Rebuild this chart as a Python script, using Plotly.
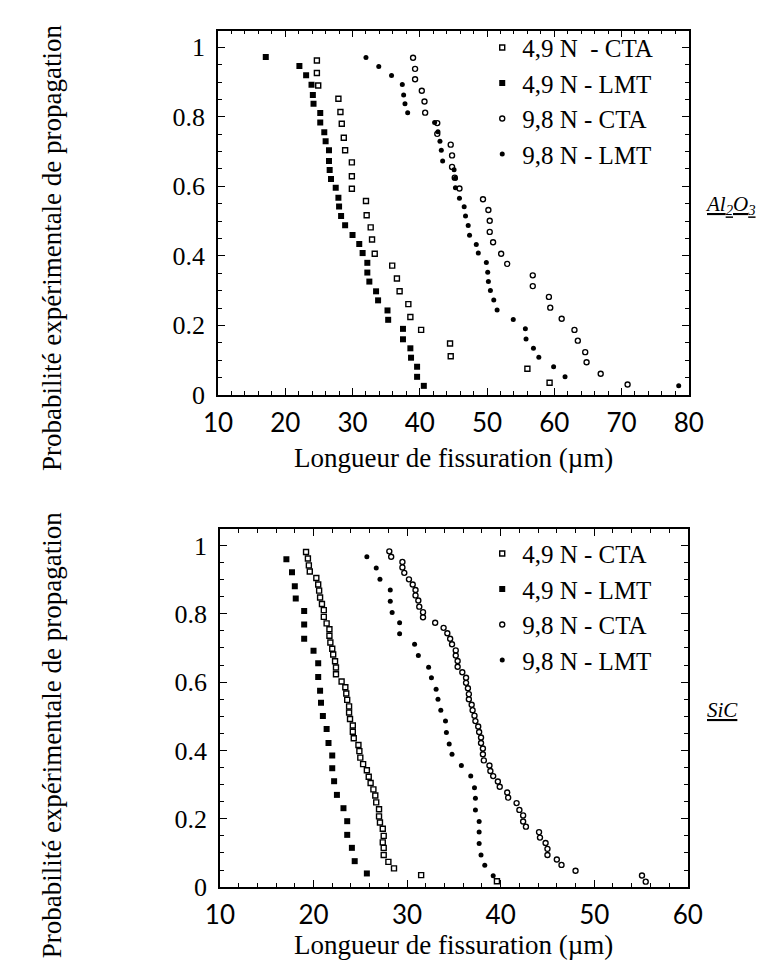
import plotly.graph_objects as go

# ---- Al2O3 panel ----
al_cta49_x = [24.7, 24.7, 24.9, 27.9, 28.2, 28.4, 28.7, 28.9, 29.9, 29.9, 29.9, 32.0, 32.1, 32.7, 32.9, 33.3,
              35.9, 36.6, 37.0, 38.3, 38.6, 40.2, 44.5, 44.6, 56.0, 59.3]
al_cta49_y = [0.962, 0.926, 0.890, 0.852, 0.814, 0.780, 0.740, 0.704, 0.669, 0.629, 0.593, 0.558, 0.517,
              0.482, 0.447, 0.406, 0.372, 0.335, 0.298, 0.261, 0.224, 0.187, 0.148, 0.111, 0.075, 0.035]

al_lmt49_x = [17.1, 22.1, 23.1, 23.9, 24.1, 24.2, 25.2, 25.2, 25.8, 26.0, 26.5, 26.5, 26.6, 26.8, 27.5, 27.9,
              28.0, 28.3, 28.9, 30.0, 31.0, 31.5, 32.2, 32.2, 32.5, 33.5, 33.8, 35.2, 35.3, 37.5, 37.5, 38.6,
              38.7, 39.6, 39.6, 40.6]
al_lmt49_y = [0.972, 0.946, 0.920, 0.892, 0.863, 0.838, 0.811, 0.784, 0.756, 0.730, 0.704, 0.673, 0.647,
              0.621, 0.596, 0.567, 0.542, 0.515, 0.488, 0.460, 0.434, 0.408, 0.380, 0.352, 0.326, 0.298,
              0.272, 0.243, 0.216, 0.190, 0.160, 0.134, 0.107, 0.081, 0.052, 0.026]

al_cta98_x = [39.0, 39.3, 39.3, 40.3, 40.7, 40.8, 42.6, 42.6, 44.6, 44.8, 44.8, 45.2, 45.9, 49.4, 50.2, 50.4,
              50.4, 50.9, 52.1, 53.0, 56.8, 56.8, 59.2, 59.4, 61.1, 63.0, 63.5, 64.6, 64.8, 66.9, 70.9]
al_cta98_y = [0.970, 0.938, 0.908, 0.875, 0.844, 0.812, 0.782, 0.751, 0.720, 0.689, 0.656, 0.625, 0.594,
              0.563, 0.532, 0.501, 0.469, 0.439, 0.406, 0.377, 0.344, 0.313, 0.282, 0.251, 0.219, 0.187,
              0.156, 0.123, 0.094, 0.061, 0.030]

al_lmt98_x = [32.0, 33.9, 35.8, 37.4, 37.6, 37.8, 38.2, 42.2, 42.7, 43.0, 43.2, 43.4, 45.1, 45.3, 45.3, 45.9,
              46.6, 46.8, 47.2, 47.4, 48.4, 48.7, 49.9, 50.1, 50.2, 50.5, 51.0, 51.5, 53.9, 55.7, 55.8, 56.9,
              57.7, 59.9, 61.6, 78.5]
al_lmt98_y = [0.971, 0.945, 0.919, 0.893, 0.863, 0.838, 0.812, 0.784, 0.757, 0.730, 0.704, 0.673, 0.648,
              0.623, 0.596, 0.566, 0.541, 0.515, 0.487, 0.459, 0.433, 0.408, 0.381, 0.353, 0.326, 0.300,
              0.273, 0.244, 0.217, 0.190, 0.161, 0.134, 0.108, 0.081, 0.052, 0.026]

# ---- SiC panel ----
sic_cta49_x = [19.2, 19.4, 19.5, 19.6, 20.3, 20.5, 20.6, 20.7, 20.9, 21.1, 21.1, 21.4, 21.7, 21.7, 21.8, 22.0,
               22.1, 22.3, 22.4, 22.4, 23.0, 23.4, 23.5, 23.6, 23.8, 23.8, 23.9, 24.2, 24.2, 24.3, 24.8, 24.9,
               25.0, 25.3, 25.7, 25.9, 26.1, 26.4, 26.6, 26.7, 27.0, 27.0, 27.1, 27.4, 27.5, 27.4, 27.5, 27.5,
               28.0, 28.6, 31.5, 39.6]
sic_cta49_y = [0.981, 0.962, 0.942, 0.924, 0.905, 0.886, 0.868, 0.848, 0.829, 0.811, 0.791, 0.772, 0.755,
               0.736, 0.716, 0.698, 0.681, 0.661, 0.643, 0.623, 0.602, 0.585, 0.567, 0.548, 0.529, 0.511,
               0.492, 0.473, 0.455, 0.436, 0.416, 0.398, 0.379, 0.360, 0.342, 0.323, 0.305, 0.286, 0.268,
               0.248, 0.228, 0.207, 0.189, 0.171, 0.150, 0.131, 0.115, 0.094, 0.074, 0.055, 0.035, 0.017]

sic_lmt49_x = [17.1, 17.7, 18.0, 18.1, 19.0, 19.0, 19.0, 20.0, 20.5, 20.5, 20.7, 20.8, 21.0, 21.4, 21.6, 22.0,
               22.0, 22.2, 22.5, 23.2, 23.6, 23.6, 24.1, 24.4, 25.7]
sic_lmt49_y = [0.960, 0.922, 0.881, 0.845, 0.808, 0.769, 0.727, 0.692, 0.655, 0.615, 0.575, 0.540, 0.501,
               0.463, 0.422, 0.385, 0.348, 0.310, 0.270, 0.231, 0.193, 0.153, 0.115, 0.076, 0.040]

sic_cta98_x = [28.1, 28.3, 29.5, 29.5, 29.7, 30.2, 30.6, 30.9, 30.9, 31.2, 31.3, 31.7, 31.7, 33.0, 33.9, 34.3,
               34.6, 34.8, 35.2, 35.2, 35.4, 35.4, 35.9, 36.3, 36.3, 36.5, 36.6, 36.6, 36.9, 37.0, 37.2, 37.3,
               37.6, 37.7, 37.9, 37.9, 38.1, 38.1, 38.2, 38.8, 38.9, 39.2, 39.7, 39.9, 40.7, 40.8, 41.7, 42.0,
               42.4, 42.4, 42.7, 44.1, 44.2, 44.8, 45.0, 45.0, 46.0, 46.5, 48.0, 55.1, 55.5]
sic_cta98_y = [0.983, 0.967, 0.952, 0.936, 0.920, 0.901, 0.886, 0.870, 0.854, 0.839, 0.821, 0.805, 0.790,
               0.774, 0.759, 0.743, 0.727, 0.711, 0.693, 0.678, 0.662, 0.645, 0.629, 0.613, 0.598, 0.582,
               0.565, 0.550, 0.534, 0.518, 0.502, 0.486, 0.470, 0.454, 0.438, 0.422, 0.406, 0.389, 0.371,
               0.356, 0.340, 0.325, 0.309, 0.294, 0.277, 0.262, 0.246, 0.226, 0.210, 0.192, 0.177, 0.161,
               0.145, 0.129, 0.112, 0.094, 0.081, 0.065, 0.048, 0.034, 0.016]

sic_lmt98_x = [25.7, 26.7, 27.1, 28.2, 28.2, 28.4, 29.2, 29.2, 30.8, 31.2, 32.3, 32.6, 33.1, 33.3, 33.6, 34.1,
               34.2, 34.5, 34.8, 35.8, 36.8, 37.2, 37.3, 37.3, 37.7, 37.7, 37.7, 37.9, 38.3, 39.2]
sic_lmt98_y = [0.967, 0.934, 0.901, 0.870, 0.837, 0.804, 0.774, 0.742, 0.711, 0.678, 0.644, 0.613, 0.579,
               0.550, 0.518, 0.486, 0.453, 0.419, 0.389, 0.356, 0.325, 0.291, 0.260, 0.226, 0.192, 0.161,
               0.128, 0.094, 0.064, 0.033]

top_names = ['4,9 N\u00a0 - CTA', '4,9 N - LMT', '9,8 N - CTA', '9,8 N - LMT']
bot_names = ['4,9 N - CTA', '4,9 N - LMT', '9,8 N - CTA', '9,8 N - LMT']

SERIF = 'Liberation Serif'
SANS = 'Lato'
W, H = 764, 965

styles = [
    dict(symbol='square-open', size=5, line=dict(width=1.4, color='black')),
    dict(symbol='square', size=6),
    dict(symbol='circle-open', size=5, line=dict(width=1.4, color='black')),
    dict(symbol='circle', size=5),
]

fig = go.Figure()
top_data = [(al_cta49_x, al_cta49_y), (al_lmt49_x, al_lmt49_y), (al_cta98_x, al_cta98_y), (al_lmt98_x, al_lmt98_y)]
bot_data = [(sic_cta49_x, sic_cta49_y), (sic_lmt49_x, sic_lmt49_y), (sic_cta98_x, sic_cta98_y), (sic_lmt98_x, sic_lmt98_y)]
for (x, y), name, st in zip(top_data, top_names, styles):
    fig.add_scatter(x=x, y=y, mode='markers', name=name, marker=dict(color='black', **st),
                    xaxis='x', yaxis='y', legend='legend')
for (x, y), name, st in zip(bot_data, bot_names, styles):
    fig.add_scatter(x=x, y=y, mode='markers', name=name, marker=dict(color='black', **st),
                    xaxis='x2', yaxis='y2', legend='legend2')


def px_y(p):
    return 1 - p / H


def xaxis(rng, dom):
    return dict(range=rng, domain=dom, dtick=10, ticks='inside', ticklen=7, tickwidth=1.3, tickcolor='black',
                minor=dict(dtick=2, ticks='inside', ticklen=4, tickwidth=1, tickcolor='black'),
                showline=True, linecolor='black', linewidth=1.5, mirror='ticks', showgrid=False,
                zeroline=False, tickfont=dict(family=SANS, size=26, color='black'), ticklabelstandoff=4)


def yaxis(top, dom, anchor):
    return dict(range=[0, top], domain=dom, anchor=anchor, dtick=0.2, ticks='inside', ticklen=7, tickwidth=1.3,
                tickcolor='black',
                minor=dict(dtick=0.05, ticks='inside', ticklen=4, tickwidth=1, tickcolor='black'),
                showline=True, linecolor='black', linewidth=1.5, mirror='ticks', showgrid=False,
                zeroline=False, tickfont=dict(family=SERIF, size=26, color='black'), ticklabelstandoff=6)


leg_font = dict(family=SERIF, size=25, color='black')
fig.update_layout(
    width=W, height=H, margin=dict(l=0, r=0, t=0, b=0),
    paper_bgcolor='white', plot_bgcolor='white',
    xaxis=xaxis([10, 80], [203 / W, 693 / W]) | dict(anchor='y'),
    yaxis=yaxis(1.048, [px_y(393), px_y(23)], 'x'),
    xaxis2=xaxis([10, 60], [205 / W, 692 / W]) | dict(anchor='y2'),
    yaxis2=yaxis(1.049, [px_y(893), px_y(529)], 'x2'),
    legend=dict(x=478 / W, y=px_y(17), xanchor='left', yanchor='top', bgcolor='rgba(0,0,0,0)',
                font=leg_font, tracegroupgap=0),
    legend2=dict(x=478 / W, y=px_y(531), xanchor='left', yanchor='top', bgcolor='rgba(0,0,0,0)',
                 font=leg_font, tracegroupgap=0),
    showlegend=True,
)

title_font = dict(family=SERIF, size=27, color='black')
for cy in (243, 738):
    fig.add_annotation(text='Probabilité expérimentale de propagation', xref='paper', yref='paper',
                       x=30 / W, y=px_y(cy), xanchor='center', yanchor='middle', textangle=-90,
                       showarrow=False, font=title_font)
for cx, cy in ((448, 457), (448, 952)):
    fig.add_annotation(text='Longueur de fissuration (µm)', xref='paper', yref='paper',
                       x=cx / W, y=px_y(cy), xanchor='center', yanchor='middle', showarrow=False,
                       font=title_font)

mat_font = dict(family=SERIF, size=21, color='black')
fig.add_annotation(text='<i><u>Al<sub>2</sub>O<sub>3</sub></u></i>', xref='paper', yref='paper',
                   x=708 / W, y=px_y(200), xanchor='left', yanchor='middle', showarrow=False, font=mat_font)
fig.add_annotation(text='<i><u>SiC</u></i>', xref='paper', yref='paper',
                   x=710 / W, y=px_y(713), xanchor='left', yanchor='middle', showarrow=False, font=mat_font)

fig.write_html('out.html')
